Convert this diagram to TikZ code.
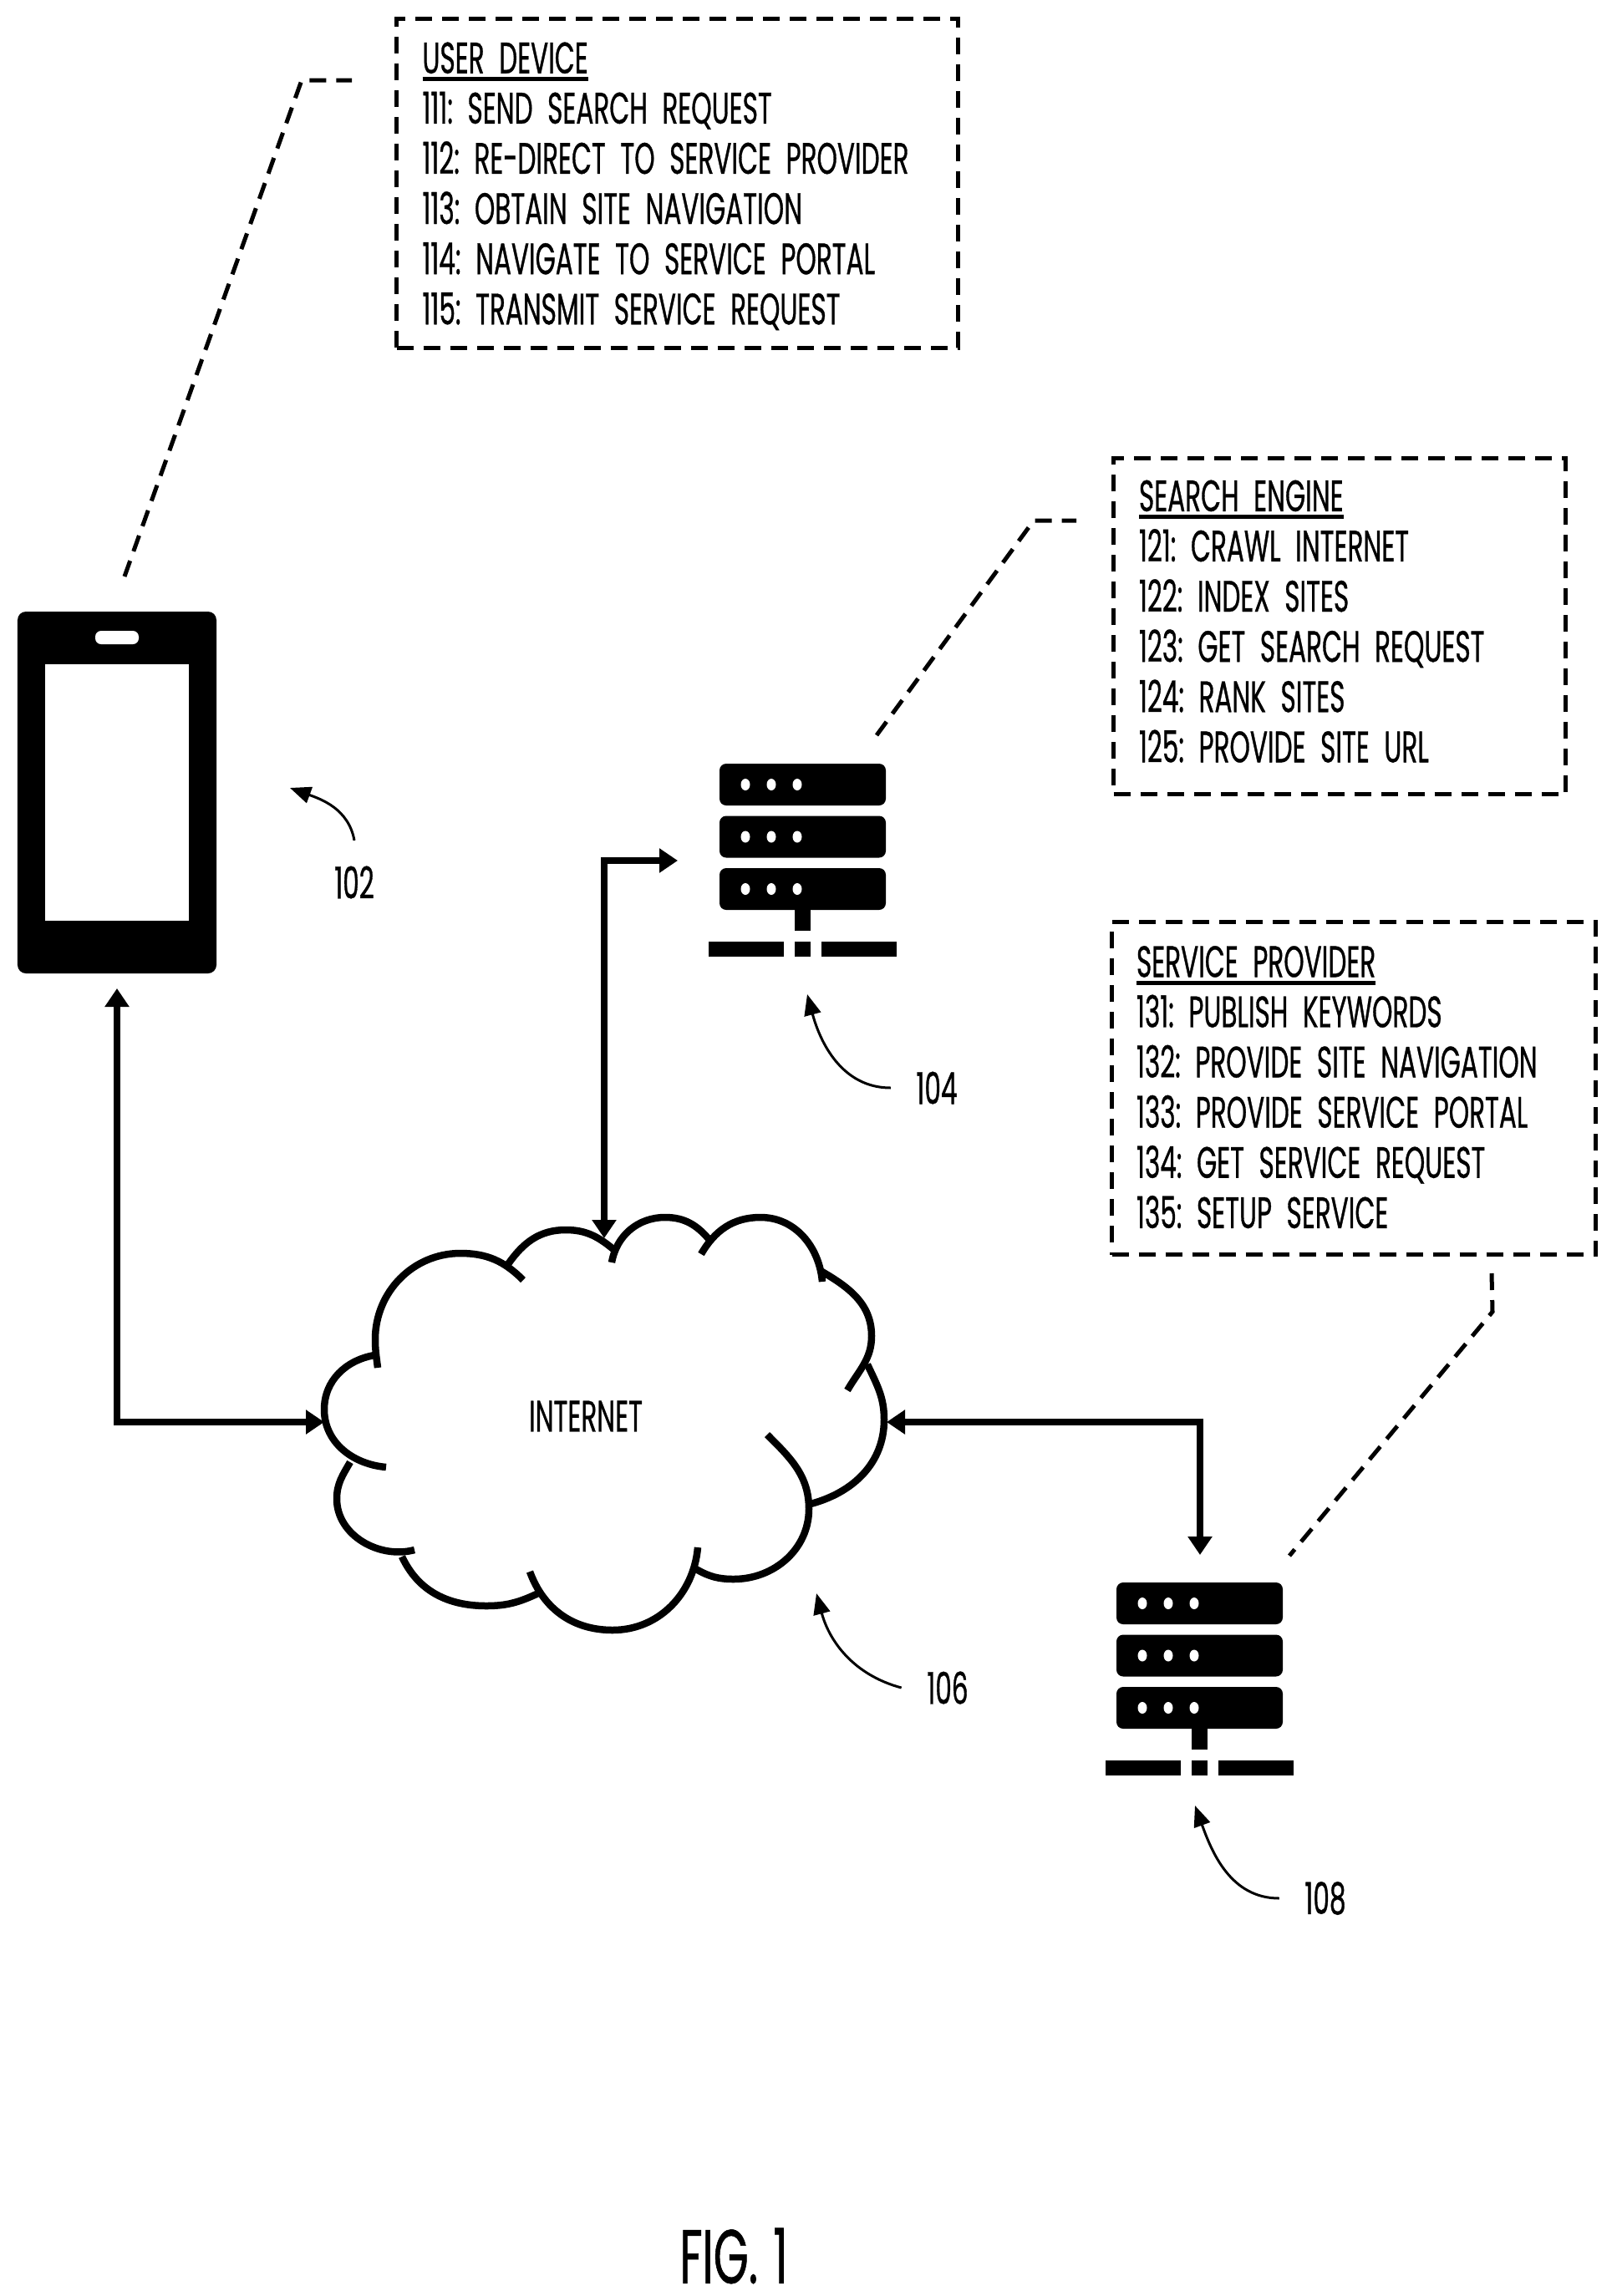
\documentclass[tikz,border=0pt]{standalone}
\usepackage{fontspec}
\setmainfont[FakeStretch=0.59,FakeBold=0.6]{Poppins}
\usetikzlibrary{arrows.meta}

\newcommand{\patentfont}{\fontsize{15}{17.1}\selectfont\frenchspacing\setlength{\spaceskip}{.14em}}
\newcommand{\figfont}{\fontsize{26}{30}\selectfont\setlength{\spaceskip}{.2em}}
\newcommand{\boxhead}[1]{\setbox0\hbox{#1}\rlap{\rule[-2.6pt]{\wd0}{1.3pt}}#1}
\newcommand{\boxraise}{\leavevmode\vrule width 0pt height .44cm\relax}
\newcommand{\boxlift}[1]{\leavevmode\vrule width 0pt depth #1\relax}

\tikzset{
  patent/.style={font=\patentfont},
  infobox/.style={patent, draw, line width=.05cm, dash pattern=on .2cm off .12cm, anchor=north west,
    align=left, inner xsep=.29cm, inner ysep=0pt},
  leader/.style={line width=.05cm, dash pattern=on .2cm off .12cm},
  link/.style={line width=.085cm, {Triangle[length=.22cm,width=.28cm]}-{Triangle[length=.22cm,width=.28cm]}},
  callout/.style={line width=.03cm, -{Triangle[length=.25cm,width=.2cm]}},
  reflabel/.style={patent, inner sep=.3cm},
  cloudarc/.style={line width=.085cm},
  serverstack/.pic={
    \foreach \r in {0,1,2}{
      \fill[rounded corners=.08cm] (0,-\r*.625) rectangle (1.99,-\r*.625-.50);
      \foreach \d in {.31,.62,.93}
        \fill[white] (\d,-\r*.625-.25) ellipse (.055cm and .07cm);
    }
    \fill (.90,-1.75) rectangle (1.09,-2.0);
    \fill (-.13,-2.13) rectangle (.77,-2.31);
    \fill (.90,-2.13) rectangle (1.09,-2.31);
    \fill (1.22,-2.13) rectangle (2.12,-2.31);
  }
}

\begin{document}
\begin{tikzpicture}
\useasboundingbox (0,0) rectangle (19.35,-27.48);

\node[infobox, minimum width=6.72cm, minimum height=3.94cm, text width=6.1cm] (userbox) at (4.72,-.20) {\boxraise\boxhead{USER DEVICE}\\111: SEND SEARCH REQUEST\\112: RE-DIRECT TO SERVICE PROVIDER\\113: OBTAIN SITE NAVIGATION\\114: NAVIGATE TO SERVICE PORTAL\\115: TRANSMIT SERVICE REQUEST};
\node[infobox, minimum width=5.41cm, minimum height=4.02cm, text width=4.8cm] (searchbox) at (13.30,-5.46) {\boxhead{SEARCH ENGINE}\\121: CRAWL INTERNET\\122: INDEX SITES\\123: GET SEARCH REQUEST\\124: RANK SITES\\125: PROVIDE SITE URL\boxlift{.12cm}};
\node[infobox, minimum width=5.79cm, minimum height=3.98cm, text width=5.2cm] (providerbox) at (13.28,-11.01) {\boxhead{SERVICE PROVIDER}\\131: PUBLISH KEYWORDS\\132: PROVIDE SITE NAVIGATION\\133: PROVIDE SERVICE PORTAL\\134: GET SERVICE REQUEST\\135: SETUP SERVICE\boxlift{.03cm}};

% phone
\node[fill=black, rounded corners=.1cm, minimum width=2.38cm, minimum height=4.33cm, inner sep=0pt] (phone) at (1.40,-9.485) {};
\node[fill=white, minimum width=1.72cm, minimum height=3.07cm, inner sep=0pt] (screen) at (1.40,-9.485) {};
\node[fill=white, rounded corners=.07cm, minimum width=.52cm, minimum height=.16cm, inner sep=0pt] (speaker) at (1.40,-7.63) {};

\pic (search) at (8.61,-9.14) {serverstack};
\pic (provider) at (13.36,-18.94) {serverstack};

% cloud
\draw[cloudarc] (4.52,-16.37) to[out=97,in=-90] (4.49,-16.03) to[out=90,in=180] (5.51,-15.00) to[out=0,in=135] (6.26,-15.32);
\draw[cloudarc] (6.08,-15.13) to[out=55,in=180] (6.77,-14.72) to[out=0,in=140] (7.35,-14.96);
\draw[cloudarc] (7.32,-15.11) to[out=80,in=180] (7.96,-14.57) to[out=0,in=130] (8.49,-14.84);
\draw[cloudarc] (8.39,-15.01) to[out=60,in=180] (9.10,-14.57) to[out=0,in=95] (9.84,-15.34);
\draw[cloudarc] (9.82,-15.21) to[out=-30,in=90] (10.43,-15.99) to[out=-90,in=60] (10.14,-16.64);
\draw[cloudarc] (10.38,-16.33) to[out=-65,in=90] (10.58,-16.99) to[out=-90,in=15] (9.70,-18.00);
\draw[cloudarc] (9.18,-17.17) to[out=-45,in=90] (9.68,-18.06) to[out=-90,in=0] (8.78,-18.90) to[out=180,in=-30] (8.33,-18.78);
\draw[cloudarc] (8.35,-18.52) to[out=-95,in=0] (7.33,-19.51) to[out=180,in=-70] (6.34,-18.81);
\draw[cloudarc] (6.44,-19.07) to[out=-155,in=0] (5.82,-19.22) to[out=180,in=-65] (4.81,-18.63);
\draw[cloudarc] (4.96,-18.55) to[out=195,in=-90] (4.03,-17.94) to[out=90,in=-120] (4.19,-17.50);
\draw[cloudarc] (4.62,-17.56) to[out=175,in=-90] (3.88,-16.87) to[out=90,in=190] (4.48,-16.22);
\node[patent] (internet) at (7.01,-16.95) {INTERNET};

% links
\coordinate (phoneend) at (1.40,-11.83);
\coordinate (cloudW) at (3.88,-17.02);
\coordinate (cloudN) at (7.23,-14.82);
\coordinate (cloudE) at (10.61,-17.02);
\coordinate (searchend) at (8.11,-10.30);
\coordinate (providerend) at (14.36,-18.61);
\draw[link] (phoneend) |- (cloudW);
\draw[link] (cloudN) |- (searchend);
\draw[link] (cloudE) -| (providerend);

% leaders
\coordinate (a0) at (1.49,-6.90);
\coordinate (a1) at (3.61,-.96);
\coordinate (a2) at (4.21,-.96);
\coordinate (b0) at (10.49,-8.80);
\coordinate (b1) at (12.37,-6.23);
\coordinate (b2) at (12.88,-6.23);
\coordinate (c0) at (17.85,-15.24);
\coordinate (c1) at (17.86,-15.70);
\coordinate (c2) at (15.43,-18.62);
\draw[leader] (a0) -- (a1) -- (a2);
\draw[leader] (b0) -- (b1) -- (b2);
\draw[leader] (c0) -- (c1) -- (c2);

% reference numerals
\node[reflabel] (lab102) at (4.24,-10.56) {102};
\node[reflabel] (lab104) at (11.21,-13.02) {104};
\node[reflabel] (lab106) at (11.34,-20.20) {106};
\node[reflabel] (lab108) at (15.86,-22.72) {108};
\coordinate (tip102) at (3.47,-9.43);
\coordinate (tip104) at (9.66,-11.90);
\coordinate (tip106) at (9.77,-19.07);
\coordinate (tip108) at (14.30,-21.61);
\draw[callout] (lab102.north) to[out=100,in=-20] (tip102);
\draw[callout] (lab104.west) to[out=180,in=-75] (tip104);
\draw[callout] (lab106.west) to[out=165,in=-75] (tip106);
\draw[callout] (lab108.west) to[out=180,in=-70] (tip108);

\node[font=\figfont] (figlabel) at (8.78,-27.00) {FIG. 1};
\end{tikzpicture}
\end{document}
